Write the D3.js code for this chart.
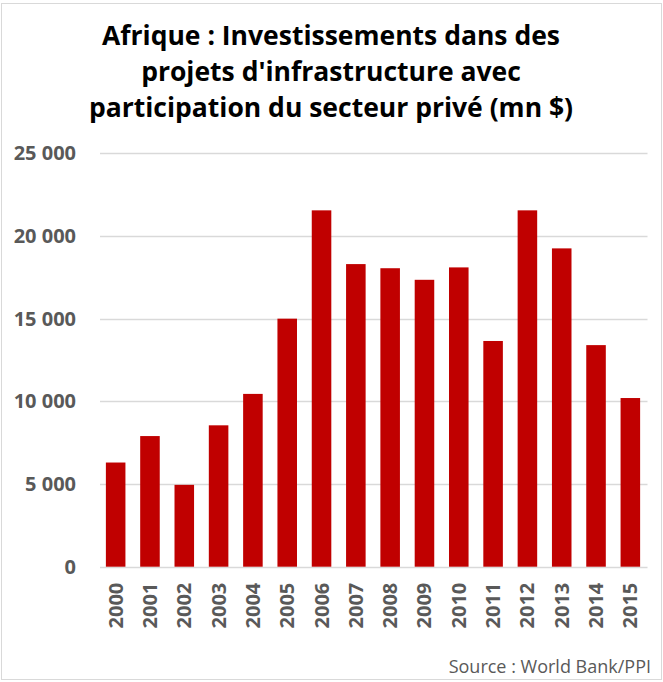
<!DOCTYPE html>
<html>
<head>
<meta charset="utf-8">
<script src="https://cdn.jsdelivr.net/npm/d3@7"></script>
<style>
  body { margin: 0; background: #fff; }
  text { font-family: "Open Sans", Lato, sans-serif; }
</style>
</head>
<body>
<main></main>
<script>
//chart data
const years = ['2000', '2001', '2002', '2003', '2004', '2005', '2006', '2007',
  '2008', '2009', '2010', '2011', '2012', '2013', '2014', '2015'];
const investments = [6300, 7900, 4950, 8550, 10450, 15000, 21550, 18300,
  18050, 17350, 18100, 13650, 21550, 19250, 13400, 10200];
const yTicks = [0, 5000, 10000, 15000, 20000, 25000];
const titleLines = ['Afrique : Investissements dans des',
  "projets d'infrastructure avec",
  'participation du secteur privé (mn $)'];
const sourceText = 'Source : World Bank/PPI';

(function(){
  const width = 663,
  height = 682,
  plotLeft = 98.5,
  plotRight = 647.5,
  plotTop = 153.3,
  plotBottom = 566.7,
  font = '"Open Sans", Lato, sans-serif';

  const svg = d3.select("main")
  .append("svg")
  .attr("width", width)
  .attr("height", height);

  //outer frame
  svg.append("rect")
  .attr("x", 1.5)
  .attr("y", 3.5)
  .attr("width", 660)
  .attr("height", 676)
  .style("fill", "#fff")
  .style("stroke", "#d9d9d9")
  .style("stroke-width", 1);

  //scales
  const x = d3.scaleBand()
  .domain(years)
  .range([plotLeft, plotRight])
  .paddingInner(0.43)
  .paddingOuter(0.215);

  const y = d3.scaleLinear()
  .domain([0, 25000])
  .range([plotBottom, plotTop]);

  //title
  const title = svg.append("text")
  .attr("text-anchor", "middle")
  .style("font-weight", "bold")
  .style("font-size", "26.5px")
  .style("fill", "#000");

  title.selectAll("tspan")
  .data(titleLines)
  .enter()
  .append("tspan")
  .attr("x", 331)
  .attr("y", (d, i) => 44.5 + i * 36.2)
  .text(d => d);

  //horizontal grid lines
  svg.append("g")
  .selectAll("line")
  .data(yTicks)
  .enter()
  .append("line")
  .attr("x1", 100)
  .attr("x2", plotRight)
  .attr("y1", d => Math.round(y(d)) + 0.5)
  .attr("y2", d => Math.round(y(d)) + 0.5)
  .style("stroke", "#d9d9d9")
  .style("stroke-width", 1.5);

  //y axis labels, gridlines drawn above so domain and ticks hidden
  const yAxis = d3.axisLeft(y)
  .tickValues(yTicks)
  .tickSize(0)
  .tickPadding(0)
  .tickFormat(d => d3.format(",")(d).replace(/,/g, " "));

  const yg = svg.append("g")
  .attr("transform", "translate(76,0)")
  .call(yAxis);
  yg.select(".domain").remove();
  yg.selectAll("text")
  .style("font-family", font)
  .style("font-size", "20px")
  .style("font-weight", "bold")
  .style("fill", "#595959");

  //bars
  svg.append("g")
  .selectAll("rect")
  .data(years)
  .enter()
  .append("rect")
  .attr("x", d => x(d))
  .attr("width", x.bandwidth())
  .attr("y", (d, i) => y(investments[i]))
  .attr("height", (d, i) => y(0) - y(investments[i]))
  .style("fill", "#c00000");

  //x axis labels, rotated
  const xAxis = d3.axisBottom(x)
  .tickSize(0)
  .tickPadding(0);

  const xg = svg.append("g")
  .attr("transform", "translate(0," + plotBottom + ")")
  .call(xAxis);
  xg.select(".domain").remove();
  xg.selectAll("text")
  .attr("transform", "translate(0,16) rotate(-90)")
  .attr("text-anchor", "end")
  .attr("x", 0)
  .attr("y", 0)
  .attr("dy", "0.35em")
  .style("font-family", font)
  .style("font-size", "20px")
  .style("font-weight", "bold")
  .style("fill", "#595959");

  //source note
  svg.append("text")
  .attr("x", 651)
  .attr("y", 673)
  .attr("text-anchor", "end")
  .style("font-size", "18px")
  .style("fill", "#595959")
  .text(sourceText);
})();
</script>
</body>
</html>
